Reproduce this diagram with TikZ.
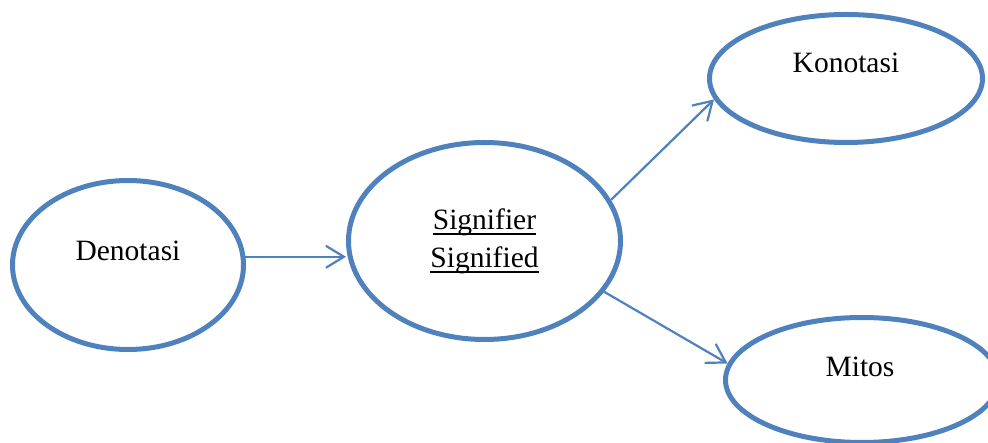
\documentclass[tikz,border=0pt]{standalone}
\usepackage{fontspec}
\setmainfont{Liberation Serif}
\usetikzlibrary{arrows.meta,shapes.geometric}
\definecolor{ublue}{HTML}{4F81BD}
\newcommand\myul[1]{\setbox0\hbox{#1}\rlap{\rule[-6pt]{\wd0}{2.2pt}}\box0}
\tikzset{
  oval/.style={ellipse, draw=ublue, line width=5pt, inner sep=0pt, fill=white},
  lbl/.style={anchor=base, inner sep=0pt, font=\fontsize{29.5}{36}\selectfont},
  conn/.style={draw=ublue, line width=2.2pt, -{Straight Barb[length=18pt,width=22pt,line width=2.2pt]}}
}
\begin{document}
\begin{tikzpicture}[x=1pt,y=-1pt]
\useasboundingbox (0,0) rectangle (988,443);
\node[oval, minimum width=231pt, minimum height=169pt] (den) at (128,265) {};
\node[oval, minimum width=272pt, minimum height=197pt] (sig) at (484.5,241) {};
\node[oval, minimum width=273pt, minimum height=128pt] (kon) at (846,78.5) {};
\node[oval, minimum width=273pt, minimum height=125pt] (mit) at (862,380) {};
\node[lbl] (tden) at (128,261) {Denotasi};
\node[lbl] (tsr) at (484.5,229.5) {\myul{Signifier}};
\node[lbl] (tsd) at (484.5,267.5) {\myul{Signified}};
\node[lbl] (tkon) at (846,73) {Konotasi};
\node[lbl] (tmit) at (860,377) {Mitos};
\draw[conn] (den.4) -- (den.4 -| sig.west);
\draw[conn] (sig.18) -- (kon.189);
\draw[conn] (sig.-23) -- (mit.173);
\end{tikzpicture}
\end{document}
